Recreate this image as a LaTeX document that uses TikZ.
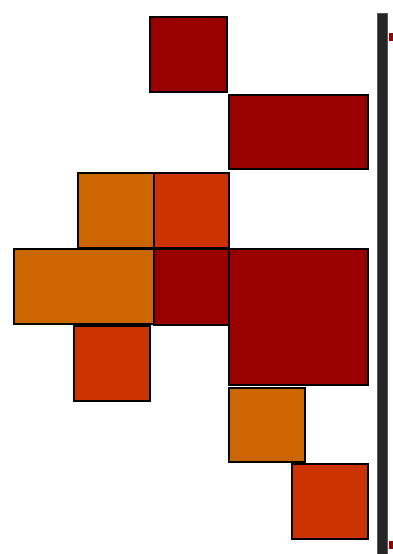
\documentclass[tikz,border=0pt]{standalone}
\definecolor{dred}{HTML}{990000}
\definecolor{dorange}{HTML}{CC6600}
\definecolor{rorange}{HTML}{CC3300}
\definecolor{barcol}{HTML}{262626}
\tikzset{
  blk/.style={draw=black, line width=2.4pt},
  bar/.style={fill=barcol, draw=gray!70!black, line width=0.6pt},
  tick/.style={fill=dred, draw=none}
}
\begin{document}
\begin{tikzpicture}[x=1pt,y=-1pt]
\useasboundingbox[fill=white] (0,0) rectangle (393,554);
% blocks
\draw[blk, fill=dred]    (150,17)  rectangle (227,92);
\draw[blk, fill=dred]    (229,95)  rectangle (368,169);
\draw[blk, fill=dorange] (78,173)  rectangle (154,248);
\draw[blk, fill=rorange] (154,173) rectangle (229,248);
\draw[blk, fill=dorange] (14,249)  rectangle (154,324);
\draw[blk, fill=dred]    (154,249) rectangle (229,325);
\draw[blk, fill=dred]    (229,249) rectangle (368,385);
\draw[blk, fill=rorange] (74,326)  rectangle (150,401);
\draw[blk, fill=dorange] (229,388) rectangle (305,462);
\draw[blk, fill=rorange] (292,464) rectangle (368,539);
% side bar
\draw[bar] (377,13) rectangle (387,556);
\fill[tick] (389,33) rectangle (393,41);
\fill[tick] (389,541) rectangle (393,549);
\end{tikzpicture}
\end{document}
